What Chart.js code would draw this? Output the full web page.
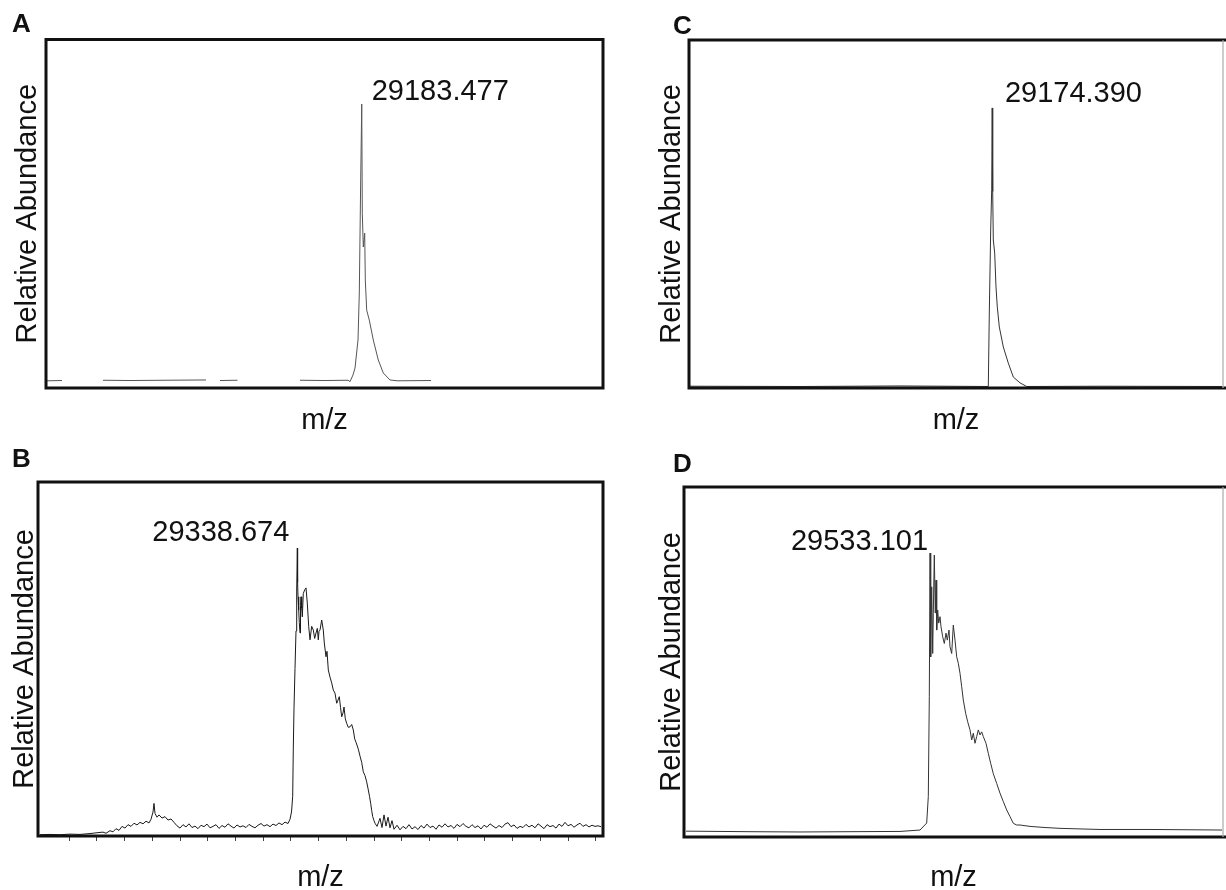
<!DOCTYPE html>
<html>
<head>
<meta charset="utf-8">
<script src="https://cdn.jsdelivr.net/npm/chart.js@4.4.1/dist/chart.umd.min.js"></script>
<style>
html,body{margin:0;padding:0;background:#fff;}
#page{position:relative;width:1226px;height:890px;overflow:hidden;background:#fff;}
canvas{position:absolute;}
.lbl{position:absolute;font:bold 26px "Liberation Sans", Arial, sans-serif;line-height:26px;color:#111;}
</style>
</head>
<body>
<div id="page">
<canvas id="cA" width="613" height="445" style="left:0px;top:0px"></canvas>
<canvas id="cB" width="613" height="445" style="left:0px;top:445px"></canvas>
<canvas id="cC" width="613" height="445" style="left:613px;top:0px"></canvas>
<canvas id="cD" width="613" height="445" style="left:613px;top:445px"></canvas>
<div class="lbl" style="left:12px;top:9.6px">A</div>
<div class="lbl" style="left:12px;top:445px">B</div>
<div class="lbl" style="left:673px;top:12px">C</div>
<div class="lbl" style="left:673px;top:449.6px">D</div>
</div>
<script>
// ---------------- DATA (m/z, relative abundance %) ----------------
const panelLetters = ['A', 'B', 'C', 'D'];
const axisTitleX = 'm/z';
const axisTitleY = 'Relative Abundance';
const peakLabels = ['29183.477', '29338.674', '29174.390', '29533.101'];
const peakMz = [29183.477, 29338.674, 29174.390, 29533.101];
const peakRel = [100, 100, 100, 100];

// Panel A
const aMz = [28554, 28584, 28590, 28666, 28720, 28790, 28872, 28880, 28900, 28935, 28940,
  29060, 29110, 29156, 29160, 29166, 29170, 29176, 29178.6, 29181.4, 29183.477, 29184.6, 29186.6,
  29189.4, 29190.6, 29193.4, 29198.6, 29206.6, 29216.6, 29226.6, 29240, 29254, 29322];
const aRel = [0.1, 0.2, null, 0.3, 0.2, 0.3, 0.4, null, 0.2, 0.3, null,
  0.3, 0.2, 0.3, -0.2, 2.2, 4.7, 14.8, 31.8, 72.6, 100, 60.6, 48.4,
  53.4, 36.5, 25.6, 22.0, 14.8, 7.6, 2.9, 0.4, 0.1, 0.2];

// Panel B
const bMz = [28824, 28844, 28864, 28884, 28904, 28924, 28944,
  28950, 28956, 28964, 28970, 28976, 28982, 28988, 28994, 29000, 29006, 29012, 29018, 29024, 29030,
  29036, 29042, 29046, 29050, 29052, 29054, 29058, 29062, 29068, 29074, 29080, 29086, 29092,
  29098, 29104, 29110, 29116, 29122, 29128, 29134, 29140, 29146, 29152,
  29158, 29164, 29170, 29176, 29182, 29188, 29194, 29200, 29206, 29212,
  29218, 29224, 29230, 29236, 29242, 29248, 29254, 29260, 29266, 29272,
  29278, 29284, 29290, 29296, 29302, 29308, 29314, 29320,
  29324, 29327, 29329.4, 29330.6, 29332, 29334, 29336, 29337.4, 29338.674, 29339.2, 29340, 29341.4,
  29342.6, 29344, 29345, 29346, 29347.4, 29348.6, 29350.6, 29353.4, 29356, 29358.6, 29361.4, 29364,
  29367.4, 29370.6, 29373.4, 29376, 29378.6, 29380.6, 29382, 29384, 29387.4, 29390.6, 29392.6, 29396,
  29398, 29400.6, 29404, 29407.4, 29410.6, 29414, 29417.4, 29420, 29422.6, 29425, 29427.4, 29430,
  29432, 29434.6, 29437.4, 29440.6, 29444, 29447.4, 29450.6, 29453.4, 29456, 29458.6, 29460.6, 29464,
  29467.4, 29470.6, 29474, 29477.4, 29480.6, 29483, 29485.4, 29487.4, 29489.4, 29492, 29494,
  29498, 29504, 29508, 29512, 29516, 29520, 29524, 29528, 29532, 29538, 29544, 29550, 29556, 29562,
  29568, 29574, 29580, 29586, 29592, 29598, 29604, 29610, 29616, 29622, 29628, 29634, 29640, 29646,
  29652, 29658, 29664, 29670, 29676, 29682, 29688, 29694, 29700, 29706, 29712, 29718, 29724, 29730,
  29736, 29742, 29748, 29754, 29760, 29766, 29772, 29778, 29784, 29790, 29796, 29802, 29808, 29814,
  29820, 29826, 29832, 29838, 29844, 29850, 29856, 29862, 29868, 29874, 29880, 29886, 29892, 29898,
  29904, 29910, 29916, 29922, 29928, 29934, 29940, 29946];
const bRel = [0.1, 0.2, 0.1, 0.3, 0.2, 0.5, 0.9,
  1.0, 0.6, 1.5, 1.1, 2.2, 1.6, 3.0, 2.4, 3.6, 3.0, 4.1, 3.5, 4.4, 3.9,
  4.8, 4.2, 5.5, 8.0, 11.0, 7.5, 6.2, 7.0, 5.9, 6.4, 5.2, 5.6, 4.4,
  3.2, 2.4, 3.6, 2.8, 3.9, 2.6, 3.1, 2.2, 3.4, 2.9,
  3.8, 2.5, 3.0, 3.6, 2.3, 3.3, 2.7, 3.9, 3.1, 2.4,
  3.5, 2.8, 3.2, 2.6, 3.7, 3.0, 2.5, 3.4, 4.0, 3.1,
  3.6, 2.9, 3.8, 3.3, 4.2, 3.6, 4.5, 4.0,
  5.5, 8.0, 13.5, 30.3, 44.2, 58.0, 71.1, 85.0, 100, 88.0, 83.0, 78.4,
  74.0, 70.4, 80.0, 83.0, 79.0, 76.0, 84.2, 85.4, 86.1, 80.8, 72.7, 68.0,
  72.7, 71.4, 68.5, 70.4, 72.0, 68.0, 71.0, 71.4, 74.9, 71.4, 66.9, 62.1,
  64.0, 57.5, 55.0, 53.0, 50.5, 49.4, 45.9, 47.0, 48.2, 44.5, 41.2, 42.5,
  44.6, 40.5, 38.9, 37.5, 37.7, 38.5, 36.6, 33.5, 32.3, 31.0, 29.9, 27.5,
  25.3, 22.0, 20.7, 18.5, 15.7, 13.5, 11.0, 8.5, 6.4, 5.0, 4.1,
  3.0, 5.8, 2.6, 7.0, 3.1, 6.2, 2.5, 5.0, 2.0, 3.4, 1.8, 3.0, 2.2, 3.6,
  2.1, 2.9, 1.9, 3.3, 2.4, 3.8, 2.6, 3.1, 2.0, 3.5, 2.7, 3.9, 2.8, 3.3,
  2.3, 3.7, 2.9, 4.0, 3.0, 2.5, 3.6, 2.6, 3.2, 2.1, 3.4, 2.7, 3.9, 3.1,
  2.4, 3.3, 2.6, 3.8, 4.3, 2.9, 3.5, 2.3, 3.0, 2.6, 3.7, 2.8, 3.4, 2.5,
  3.9, 3.1, 2.2, 3.6, 2.9, 3.3, 2.4, 3.8, 3.0, 4.4, 3.2, 3.7, 2.7, 3.5,
  4.1, 3.0, 3.6, 2.8, 3.4, 3.0, 3.2, 2.9];
const bTickValues = [28882, 28937, 28993, 29048, 29104, 29159, 29215, 29270, 29325, 29381,
  29436, 29492, 29547, 29603, 29658, 29713, 29769, 29824, 29880, 29935];

// Panel C
const cMz = [28570, 28790, 28990, 29166.6, 29168.6, 29171.4, 29173.4, 29174.39, 29175.4, 29176.6,
  29179.4, 29182, 29184.6, 29188.6, 29196.6, 29206.6, 29216.6, 29230, 29243.4, 29390, 29634];
const cRel = [0.1, 0, 0.2, 0, 26.4, 56.2, 70.6, 100, 70, 52.6,
  47.9, 35.7, 28.5, 21.4, 14.2, 8.4, 3.4, 1.3, 0, 0.1, 0];

// Panel D
const dMz = [29045, 29173, 29273, 29373, 29473, 29513, 29526.4, 29529.6, 29531.6, 29533.101,
  29534.4, 29536.4, 29538.4, 29539.6, 29541.6, 29543.6, 29545, 29546.4, 29548.4, 29550.4,
  29553, 29555, 29558.4, 29561.6, 29565, 29567.6, 29571, 29573, 29576.4, 29579.6,
  29583, 29586.4, 29589.6, 29593, 29596.4, 29599.6, 29604.4, 29608.4, 29613, 29616.4,
  29619.6, 29623, 29626.4, 29629.6, 29633, 29636.4, 29639.6, 29645, 29649.6, 29654.4,
  29659.6, 29666.4, 29673, 29679.6, 29686.4, 29693, 29699.6, 29706.4, 29713, 29733,
  29763, 29793, 29873, 29973, 30117];
const dRel = [0.3, 0.1, 0, 0.1, 0.2, 0.7, 3.2, 12.7, 48.5, 100,
  62.8, 87.9, 64.0, 78.4, 99.3, 78.5, 90.3, 72.4, 79.6, 74.9,
  77.2, 73.6, 70.0, 67.6, 71.3, 68.8, 72.4, 66.4, 64.0, 74.2,
  68.8, 62.8, 60.5, 56.9, 52.1, 47.3, 42.5, 39.5, 36.6, 33.0,
  35.4, 31.8, 34.2, 36.6, 34.8, 35.9, 34.2, 31.8, 28.2, 24.6,
  20.9, 17.4, 13.9, 10.9, 7.9, 5.5, 3.1, 2.5, 2.5, 2.0,
  1.6, 1.3, 0.9, 0.9, 0.7];

// ---------------- LAYOUT (page pixels) ----------------
const layout = {
  A: {canvas: [0, 0, 613, 445], box: [46, 39.5, 603, 388], yMid: 28.2, xMid: 421.3,
      xRange: [28552, 29666], yRange: [-2.5, 123.3], color: '#555', full: true,
      label: {dx: 10, dy: -4, align: 'left'}},
  B: {canvas: [0, 445, 613, 445], box: [38, 482, 603, 836], yMid: 25.2, xMid: 878.3,
      xRange: [28820, 29950], yRange: [-0.35, 123], color: '#1a1a1a', full: true,
      label: {dx: -8, dy: -7, align: 'right'}, ticks: bTickValues},
  C: {canvas: [613, 0, 613, 445], box: [689, 40, 1223, 388], yMid: 671.5, xMid: 421.3,
      xRange: [28568, 29636], yRange: [-0.54, 124.4], color: '#333', full: false,
      label: {dx: 12.7, dy: -6, align: 'left'}},
  D: {canvas: [613, 445, 613, 445], box: [684, 487, 1223, 837], yMid: 671.5, xMid: 878.3,
      xRange: [29041, 30119], yRange: [-1.8, 123.7], color: '#333', full: false,
      label: {dx: -2, dy: -3, align: 'right'}}
};

const FONT = '"Liberation Sans", Arial, sans-serif';
const FSIZE = 29;
Chart.defaults.font.family = FONT;
Chart.defaults.color = '#111';

const framePlugin = {
  id: 'frame',
  afterDatasetsDraw(chart, args, o) {
    const {ctx, chartArea: {left, top, right, bottom}} = chart;
    ctx.save();
    ctx.strokeStyle = '#111';
    ctx.lineWidth = 3;
    if (o.full) {
      ctx.strokeRect(left, top, right - left, bottom - top);
    } else {
      ctx.beginPath();
      ctx.moveTo(chart.width, top);
      ctx.lineTo(left, top);
      ctx.lineTo(left, bottom);
      ctx.lineTo(chart.width, bottom);
      ctx.stroke();
      ctx.strokeStyle = '#aaa';
      ctx.lineWidth = 1.2;
      ctx.beginPath();
      ctx.moveTo(right, top);
      ctx.lineTo(right, bottom);
      ctx.stroke();
    }
    ctx.restore();
  }
};

const peakLabelPlugin = {
  id: 'peakLabel',
  afterDatasetsDraw(chart, args, o) {
    if (!o || !o.text) return;
    const {ctx} = chart;
    const px = chart.scales.x.getPixelForValue(o.x) + o.dx;
    const py = chart.scales.y.getPixelForValue(o.y) + o.dy;
    ctx.save();
    ctx.font = FSIZE + 'px ' + FONT;
    ctx.fillStyle = '#111';
    ctx.textAlign = o.align;
    ctx.textBaseline = 'alphabetic';
    ctx.fillText(o.text, px, py);
    ctx.restore();
  }
};
Chart.register(framePlugin, peakLabelPlugin);

const series = {A: [aMz, aRel], B: [bMz, bRel], C: [cMz, cRel], D: [dMz, dRel]};
const canvasIds = {A: 'cA', B: 'cB', C: 'cC', D: 'cD'};

panelLetters.forEach((key, i) => {
  const p = layout[key];
  const [cx, cy, cw, ch] = p.canvas;
  const [L, T, R, B] = p.box;
  const lh = FSIZE * 0.8;
  const tickLen = p.ticks ? 5 : 0;
  const yPadTop = p.yMid - cx - lh / 2;
  const yPadBottom = (L - cx) - lh - yPadTop;
  const xPadTop = p.xMid - B - lh / 2 - tickLen;
  const xPadBottom = Math.max(0, (cy + ch) - B - tickLen - lh - xPadTop);
  const [mz, rel] = series[key];
  const pts = mz.map((m, j) => ({x: m, y: rel[j]}));

  new Chart(document.getElementById(canvasIds[key]), {
    type: 'line',
    data: {datasets: [{data: pts, borderColor: p.color, borderWidth: 1, pointRadius: 0,
      tension: 0, fill: false, spanGaps: false}]},
    options: {
      responsive: false, animation: false, devicePixelRatio: 1,
      layout: {padding: {left: 0, top: T - cy, right: cw - (R - cx), bottom: 0}},
      plugins: {
        legend: {display: false}, tooltip: {enabled: false}, title: {display: false},
        frame: {full: p.full},
        peakLabel: {text: peakLabels[i], x: peakMz[i], y: peakRel[i],
          dx: p.label.dx, dy: p.label.dy, align: p.label.align}
      },
      scales: {
        x: {
          type: 'linear', min: p.xRange[0], max: p.xRange[1],
          border: {display: false},
          grid: p.ticks ? {display: true, drawOnChartArea: false, drawTicks: true, tickLength: tickLen,
            tickColor: '#444', tickWidth: 1} : {display: false, drawTicks: false},
          ticks: {display: false},
          afterBuildTicks: (scale) => { if (p.ticks) scale.ticks = p.ticks.map(v => ({value: v})); },
          title: {display: true, text: axisTitleX, color: '#111',
            font: {size: FSIZE, lineHeight: 0.8, family: FONT},
            padding: {top: xPadTop, bottom: xPadBottom}}
        },
        y: {
          type: 'linear', min: p.yRange[0], max: p.yRange[1],
          border: {display: false},
          grid: {display: false, drawTicks: false},
          ticks: {display: false},
          title: {display: true, text: axisTitleY, color: '#111',
            font: {size: FSIZE, lineHeight: 0.8, family: FONT},
            padding: {top: yPadTop, bottom: yPadBottom}}
        }
      }
    }
  });
});
</script>
</body>
</html>
